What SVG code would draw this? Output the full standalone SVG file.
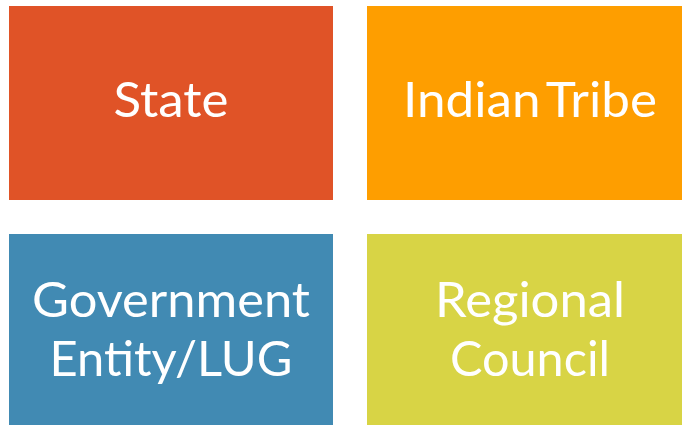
<svg xmlns="http://www.w3.org/2000/svg" width="682" height="425" viewBox="0 0 682 425">
<style>
.lbl{font-family:Lato,"Open Sans","Liberation Sans",sans-serif;font-size:49px;fill:#ffffff;text-anchor:middle}
</style>
<rect width="682" height="425" fill="#ffffff"/>
<g id="state">
<rect x="9" y="6" width="324" height="194" fill="#E05327"/>
<text class="lbl" x="171" y="117" textLength="115" lengthAdjust="spacingAndGlyphs">State</text>
</g>
<g id="indian-tribe">
<rect x="367" y="6" width="315" height="194" fill="#FE9E00"/>
<text class="lbl" x="530" y="117" textLength="254" lengthAdjust="spacingAndGlyphs" word-spacing="-6">Indian Tribe</text>
</g>
<g id="government-entity">
<rect x="9" y="234" width="324" height="191" fill="#418AB3"/>
<text class="lbl" x="171" y="317" textLength="278" lengthAdjust="spacingAndGlyphs">Government</text>
<text class="lbl" x="171" y="376" textLength="243" lengthAdjust="spacingAndGlyphs">Entity/LUG</text>
</g>
<g id="regional-council">
<rect x="367" y="234" width="315" height="191" fill="#D8D445"/>
<text class="lbl" x="530" y="317" textLength="190" lengthAdjust="spacingAndGlyphs">Regional</text>
<text class="lbl" x="530" y="376" textLength="160" lengthAdjust="spacingAndGlyphs">Council</text>
</g>
<g id="connectors"></g>
</svg>
